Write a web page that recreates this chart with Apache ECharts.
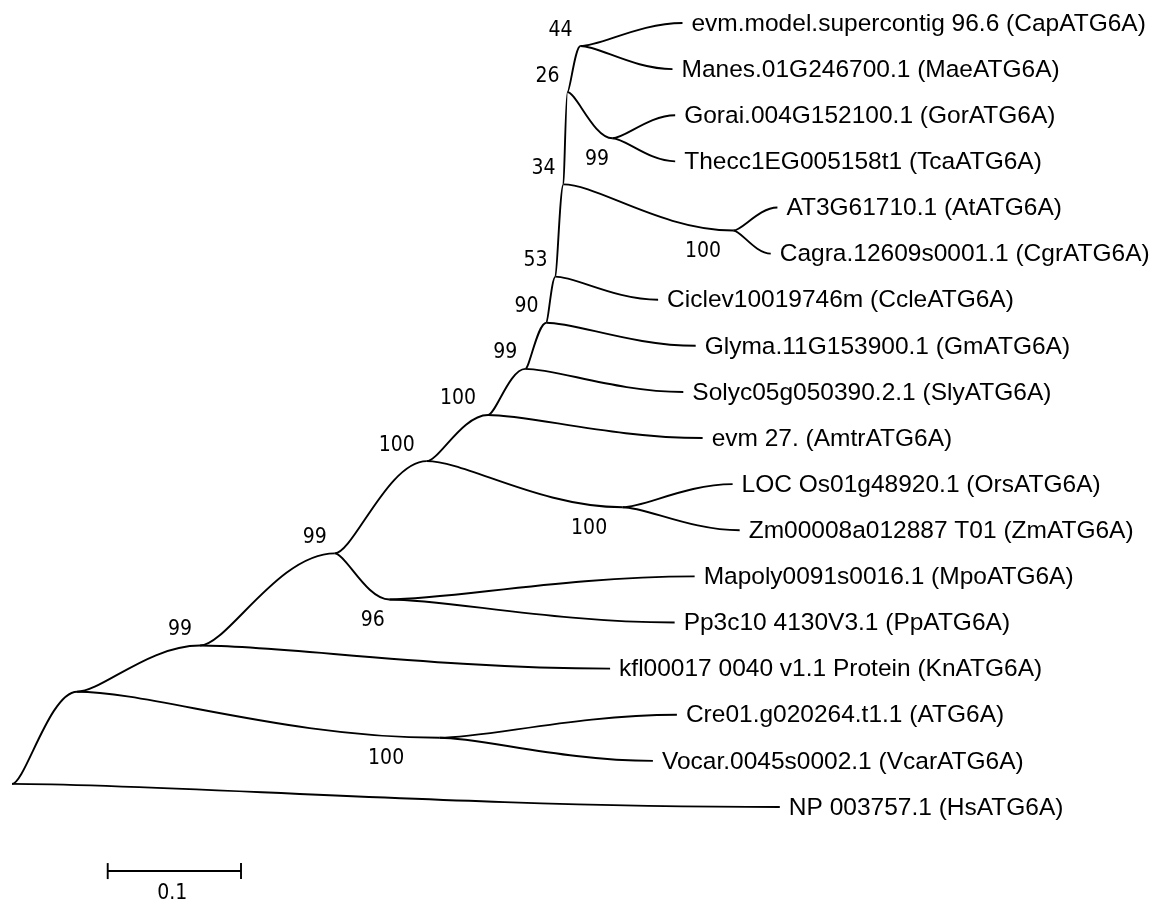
<!DOCTYPE html>
<html><head><meta charset="utf-8">
<script src="https://cdn.jsdelivr.net/npm/echarts@6/dist/echarts.min.js"></script>
<style>html,body{margin:0;padding:0;background:#fff}#c{width:1155px;height:903px}</style>
</head><body><div id="c"></div>
<script>
// ---- Tree data (parents listed before children; children in top-to-bottom order) ----
const nodeIds = ['root','A','Hs','B','C','D','Kn','E','F','G','H','I','Amtr','J','Sly','K','Gm','L','Ccle','M','N','O','P','Cap','Mae','Gor','Tca','At','Cgr','Ors','Zm','Mpo','Pp','Cre','Voc'];
const nodeParents = [null,'root','root','A','A','B','B','D','D','E','E','G','G','I','I','J','J','K','K','L','L','M','M','O','O','P','P','N','N','H','H','F','F','C','C'];
// branch lengths (substitutions per site)
const branchLengths = [0,0.0488,0.576,0.0923,0.272,0.101,0.3076,0.069,0.041,0.046,0.147,0.028,0.161,0.0158,0.1185,0.0068,0.112,0.006,0.077,0.003,0.1275,0.0098,0.0338,0.0765,0.069,0.047,0.047,0.033,0.028,0.0825,0.0878,0.229,0.214,0.178,0.160];
// bootstrap support for internal nodes
const bootNodes  = ['B','C','D','E','F','G','H','I','J','K','L','M','N','O','P'];
const bootValues = ['99','100','99','100','96','100','100','99','90','53','34','26','100','44','99'];
// leaf labels
const leafIds = ['Cap','Mae','Gor','Tca','At','Cgr','Ccle','Gm','Sly','Amtr','Ors','Zm','Mpo','Pp','Kn','Cre','Voc','Hs'];
const leafNames = [
  'evm.model.supercontig 96.6 (CapATG6A)',
  'Manes.01G246700.1 (MaeATG6A)',
  'Gorai.004G152100.1 (GorATG6A)',
  'Thecc1EG005158t1 (TcaATG6A)',
  'AT3G61710.1 (AtATG6A)',
  'Cagra.12609s0001.1 (CgrATG6A)',
  'Ciclev10019746m (CcleATG6A)',
  'Glyma.11G153900.1 (GmATG6A)',
  'Solyc05g050390.2.1 (SlyATG6A)',
  'evm 27. (AmtrATG6A)',
  'LOC Os01g48920.1 (OrsATG6A)',
  'Zm00008a012887 T01 (ZmATG6A)',
  'Mapoly0091s0016.1 (MpoATG6A)',
  'Pp3c10 4130V3.1 (PpATG6A)',
  'kfl00017 0040 v1.1 Protein (KnATG6A)',
  'Cre01.g020264.t1.1 (ATG6A)',
  'Vocar.0045s0002.1 (VcarATG6A)',
  'NP 003757.1 (HsATG6A)'
];
// scale bar
const scaleBarStart = 0.0718;
const scaleBarLength = 0.1;
const scaleBarLabel = '0.1';
const scaleBarRow = 18.39;

// ---- Layout (depth = cumulative branch length; row = leaf order) ----
const idx = {}; nodeIds.forEach((n,i)=>idx[n]=i);
const children = nodeIds.map(()=>[]);
nodeParents.forEach((p,i)=>{ if(p!==null) children[idx[p]].push(i); });
const depth = new Array(nodeIds.length).fill(0);
nodeIds.forEach((n,i)=>{ if(nodeParents[i]!==null) depth[i] = depth[idx[nodeParents[i]]] + branchLengths[i]; });
const row = new Array(nodeIds.length).fill(0);
const firstLeaf = [], lastLeaf = [];
let leafCounter = 0;
function layout(i){
  if(children[i].length===0){ row[i]=leafCounter; firstLeaf[i]=lastLeaf[i]=leafCounter; leafCounter++; return; }
  children[i].forEach(layout);
  const c = children[i];
  firstLeaf[i] = firstLeaf[c[0]]; lastLeaf[i] = lastLeaf[c[c.length-1]];
  row[i] = (lastLeaf[c[0]] + firstLeaf[c[1]]) / 2;
}
layout(0);

const edgeData = [];
nodeIds.forEach((n,i)=>{ if(nodeParents[i]!==null){ const p=idx[nodeParents[i]]; edgeData.push([depth[p],row[p],depth[i],row[i]]); } });
const leafData = leafIds.map((id,k)=>[depth[idx[id]], row[idx[id]], leafNames[k]]);
const bootData = bootNodes.map((id,k)=>{ const i=idx[id], p=idx[nodeParents[i]]; return [depth[i],row[i],depth[p],row[p],bootValues[k]]; });

const narrowFont = "'Liberation Sans Narrow','DejaVu Sans Condensed',sans-serif";
const chart = echarts.init(document.getElementById('c'));
chart.setOption({
  animation:false,
  backgroundColor:'#fff',
  grid:{left:12, top:23, width:1133.05, height:876.2},
  xAxis:{type:'value', min:0, max:0.85, show:false},
  yAxis:{type:'value', min:0, max:19, inverse:true, show:false},
  series:[
    { type:'custom', data:edgeData, clip:false, silent:true,
      renderItem:(params,api)=>{
        const p0=api.coord([api.value(0),api.value(1)]);
        const p1=api.coord([api.value(2),api.value(3)]);
        const dx=p1[0]-p0[0];
        return {type:'bezierCurve',
          shape:{x1:p0[0],y1:p0[1],x2:p1[0],y2:p1[1],cpx1:p0[0]+0.2*dx,cpy1:p0[1],cpx2:p0[0]+0.58*dx,cpy2:p1[1]},
          style:{stroke:'#000',lineWidth:1.9,fill:null}};
      }},
    { type:'custom', data:leafData, clip:false, silent:true,
      renderItem:(params,api)=>{
        const p=api.coord([api.value(0),api.value(1)]);
        return {type:'text', x:p[0]+9, y:p[1]+1,
          style:{text:leafNames[params.dataIndex], fill:'#000', font:"24.5px 'Liberation Sans', Arial, sans-serif", textAlign:'left', textVerticalAlign:'middle'}};
      }},
    { type:'custom', data:bootData, clip:false, silent:true,
      renderItem:(params,api)=>{
        const p=api.coord([api.value(0),api.value(1)]);
        const q=api.coord([api.value(2),api.value(3)]);
        const txt=bootValues[params.dataIndex];
        let x,y;
        if(q[1] < p[1]){ x = p[0] - (10 + 0.12*(p[0]-q[0])); y = p[1] + 21; }
        else { x = p[0] - 10*txt.length; y = p[1] - 16; }
        return {type:'text', x:x, y:y,
          style:{text:txt, fill:'#000', font:"21px "+narrowFont, textAlign:'center', textVerticalAlign:'middle'}};
      }},
    { type:'custom', data:[[scaleBarStart, scaleBarStart+scaleBarLength, scaleBarRow]], clip:false, silent:true,
      renderItem:(params,api)=>{
        const a=api.coord([api.value(0),api.value(2)]);
        const b=api.coord([api.value(1),api.value(2)]);
        const st={stroke:'#000',lineWidth:1.9};
        return {type:'group', children:[
          {type:'line', shape:{x1:a[0],y1:a[1],x2:b[0],y2:b[1]}, style:st},
          {type:'line', shape:{x1:a[0],y1:a[1]-8,x2:a[0],y2:a[1]+8}, style:st},
          {type:'line', shape:{x1:b[0],y1:b[1]-8,x2:b[0],y2:b[1]+8}, style:st},
          {type:'text', x:(a[0]+b[0])/2-2, y:a[1]+22, style:{text:scaleBarLabel, fill:'#000', font:"21px "+narrowFont, textAlign:'center', textVerticalAlign:'middle'}}
        ]};
      }}
  ]
});
</script></body></html>
